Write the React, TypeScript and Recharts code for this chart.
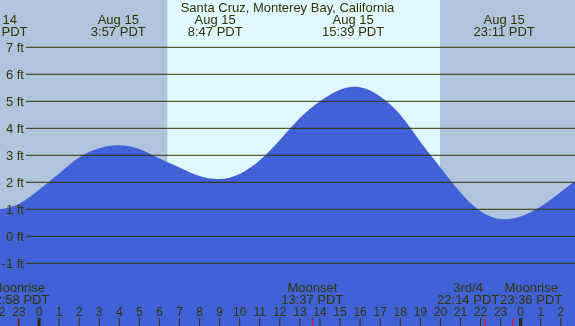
import React from "react";
import { AreaChart, Area, XAxis, YAxis, ReferenceArea, ReferenceLine } from "recharts";

// tide height (ft) each hour, hours from Aug 15 00:00 PDT
const hours = [-2, -1, 0, 1, 2, 3, 4, 5, 6, 7, 8, 9, 10, 11, 12, 13, 14, 15, 16, 17, 18, 19, 20, 21, 22, 23, 24, 25, 26, 27];
const heights = [1.0, 1.2, 1.72, 2.33, 2.92, 3.26, 3.37, 3.23, 2.88, 2.55, 2.23, 2.12, 2.31, 2.82, 3.57, 4.38, 5.0, 5.43, 5.52, 5.18, 4.5, 3.5, 2.55, 1.62, 0.93, 0.64, 0.73, 1.1, 1.64, 2.22];

const feetLevels = [-1, 0, 1, 2, 3, 4, 5, 6, 7];
const hourTicks = [-2, -1, 0, 1, 2, 3, 4, 5, 6, 7, 8, 9, 10, 11, 12, 13, 14, 15, 16, 17, 18, 19, 20, 21, 22, 23, 24, 25, 26];
const midnights = [0, 24];

const tideTimes = [-2.12, 3.95, 8.78, 15.65, 23.18];
const tideDates = ["Aug 14", "Aug 15", "Aug 15", "Aug 15", "Aug 15"];
const tideClock = ["21:53 PDT", "3:57 PDT", "8:47 PDT", "15:39 PDT", "23:11 PDT"];

const moonTimes = [-1.03, 13.62, 22.23, 23.6];
const moonEvents = ["Moonrise", "Moonset", "3rd/4", "Moonrise"];
const moonClock = ["22:58 PDT", "13:37 PDT", "22:14 PDT", "23:36 PDT"];
// labels nudged apart where they would collide
const moonNudge = [0, 0, -17, 18.5];

const sunrise = 6.41;
const sunset = 19.98;

const xMin = -1.943;
const xMax = 26.707;
const yMin = -3.322;
const yMax = 8.752;

const data = hours.map((h, i) => ({ h, ft: heights[i] }));

const ink = "#333300";
const font = "'Liberation Sans', Arial, sans-serif";

const tideLabel = (date: string, clock: string) => (props: any) => {
  const vb = props.viewBox || {};
  return (
    <g>
      <text x={vb.x} y={24} textAnchor="middle" fill={ink} fontSize={13} fontFamily={font}>{date}</text>
      <text x={vb.x} y={36} textAnchor="middle" fill={ink} fontSize={13} fontFamily={font}>{clock}</text>
    </g>
  );
};

const moonLabel = (name: string, clock: string, nudge: number) => (props: any) => {
  const vb = props.viewBox || {};
  const x = vb.x + nudge;
  return (
    <g>
      <text x={x} y={292} textAnchor="middle" fill={ink} fontSize={13} fontFamily={font}>{name}</text>
      <text x={x} y={303.5} textAnchor="middle" fill={ink} fontSize={13} fontFamily={font}>{clock}</text>
    </g>
  );
};

const tickFt = 8 / 27;

export default function App() {
  return (
    <div style={{ position: "fixed", left: 0, top: 0, width: 575, height: 326 }}>
      <AreaChart width={575} height={326} data={data} margin={{ top: 0, right: 0, bottom: 0, left: 0 }}>
        <XAxis
          type="number"
          dataKey="h"
          domain={[xMin, xMax]}
          allowDataOverflow
          ticks={hourTicks}
          interval={0}
          mirror
          axisLine={false}
          tickSize={8}
          tickMargin={2}
          tickLine={{ stroke: ink }}
          tick={{ fill: ink, fontSize: 12, fontFamily: font }}
          tickFormatter={(v: number) => String(((v % 24) + 24) % 24)}
        />
        <YAxis hide type="number" domain={[yMin, yMax]} allowDataOverflow />
        <ReferenceArea x1={xMin} x2={sunrise} y1={yMin} y2={yMax} fill="#b0c4de" fillOpacity={1} stroke="none" ifOverflow="visible" />
        <ReferenceArea x1={sunrise} x2={sunset} y1={yMin} y2={yMax} fill="#dff8ff" fillOpacity={1} stroke="none" ifOverflow="visible" />
        <ReferenceArea x1={sunset} x2={xMax} y1={yMin} y2={yMax} fill="#b0c4de" fillOpacity={1} stroke="none" ifOverflow="visible" />
        <Area
          type="natural"
          dataKey="ft"
          baseValue={yMin}
          fill="#4161d7"
          fillOpacity={1}
          stroke="none"
          isAnimationActive={false}
        />
        {feetLevels.map((v) => (
          <ReferenceLine
            key={"g" + v}
            segment={[{ x: -0.648, y: v }, { x: xMax, y: v }]}
            stroke={ink}
            strokeWidth={1}
            ifOverflow="visible"
            label={{ value: `${v} ft`, position: "left", offset: 2, fill: ink, fontSize: 13, fontFamily: font }}
          />
        ))}
        {tideTimes.map((t, i) => (
          <ReferenceLine key={"t" + i} x={t} stroke="none" ifOverflow="visible" label={tideLabel(tideDates[i], tideClock[i])} />
        ))}
        {moonTimes.map((t, i) => (
          <ReferenceLine key={"m" + i} x={t} stroke="none" ifOverflow="visible" label={moonLabel(moonEvents[i], moonClock[i], moonNudge[i])} />
        ))}
        {moonTimes.map((t, i) => (
          <ReferenceLine key={"r" + i} segment={[{ x: t, y: yMin }, { x: t, y: yMin + tickFt }]} stroke="#ff0000" strokeWidth={1} ifOverflow="visible" />
        ))}
        {midnights.map((t) => (
          <ReferenceLine key={"n" + t} segment={[{ x: t, y: yMin }, { x: t, y: yMin + tickFt }]} stroke="#222200" strokeWidth={3} ifOverflow="visible" />
        ))}
      </AreaChart>
      <svg width={575} height={16} style={{ position: "absolute", left: 0, top: 0, pointerEvents: "none" }}>
        <text x={287.5} y={12} textAnchor="middle" fill={ink} fontSize={13} fontFamily={font}>
          Santa Cruz, Monterey Bay, California
        </text>
      </svg>
    </div>
  );
}
